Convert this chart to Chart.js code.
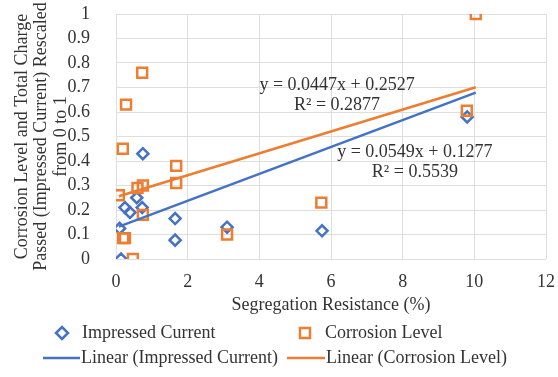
<!DOCTYPE html>
<html>
<head>
<meta charset="utf-8">
<script src="https://cdn.jsdelivr.net/npm/chart.js@4.4.1/dist/chart.umd.min.js"></script>
<style>
  html, body { margin: 0; padding: 0; background: #fff; }
  #wrap { width: 558px; height: 377px; }
</style>
</head>
<body>
<div id="wrap"><canvas id="myChart" width="558" height="377"></canvas></div>
<script>
// Impressed Current (diamonds)
const impressedX = [0.10, 0.14, 0.25, 0.39, 0.58, 0.73, 0.75, 1.65, 1.65, 3.10, 5.75, 9.80];
const impressedY = [0.125, 0.00, 0.21, 0.19, 0.25, 0.21, 0.43, 0.165, 0.077, 0.13, 0.115, 0.58];

// Corrosion Level (squares)
const corrosionX = [0.08, 0.19, 0.20, 0.25, 0.28, 0.47, 0.60, 0.73, 0.75, 0.75, 1.68, 1.68, 3.10, 5.73, 9.79, 10.04];
const corrosionY = [0.26, 0.45, 0.085, 0.085, 0.63, 0.00, 0.29, 0.76, 0.30, 0.18, 0.38, 0.31, 0.10, 0.23, 0.605, 1.00];

// trend line end points
const fitX = [0.08, 10.04];
const impressedFitY = [0.132, 0.679];
const corrosionFitY = [0.256, 0.701];

const xTickValues = [0, 2, 4, 6, 8, 10, 12];
const yTickValues = [0, 0.1, 0.2, 0.3, 0.4, 0.5, 0.6, 0.7, 0.8, 0.9, 1];
const yTickLabels = ['0', '0.1', '0.2', '0.3', '0.4', '0.5', '0.6', '0.7', '0.8', '0.9', '1'];

const equations = [
    { x: 6.17, y: 0.71, lines: ['y = 0.0447x + 0.2527', 'R² = 0.2877'] },
    { x: 8.34, y: 0.437, lines: ['y = 0.0549x + 0.1277', 'R² = 0.5539'] }
];

const BLUE = '#4472C4';
const ORANGE = '#ED7D31';
const TEXT = '#333333';
const FONT = '"Liberation Serif", "Times New Roman", serif';

const toPoints = (xs, ys) => xs.map((x, i) => ({ x: x, y: ys[i] }));

const equationPlugin = {
    id: 'equations',
    afterDatasetsDraw(chart) {
        const { ctx, scales } = chart;
        ctx.save();
        ctx.font = '18px ' + FONT;
        ctx.fillStyle = TEXT;
        ctx.textAlign = 'center';
        ctx.textBaseline = 'middle';
        equations.forEach(eq => {
            const px = scales.x.getPixelForValue(eq.x);
            const py = scales.y.getPixelForValue(eq.y);
            eq.lines.forEach((t, i) => ctx.fillText(t, px, py + i * 20));
        });
        ctx.restore();
    }
};

const legendPlugin = {
    id: 'sideLegend',
    afterDraw(chart) {
        const ctx = chart.ctx;
        ctx.save();
        ctx.font = '18px ' + FONT;
        ctx.fillStyle = TEXT;
        ctx.textAlign = 'left';
        ctx.textBaseline = 'middle';

        // row 1
        const y1 = 333;
        ctx.strokeStyle = BLUE;
        ctx.lineWidth = 2.5;
        ctx.beginPath();
        ctx.moveTo(56, y1); ctx.lineTo(62, y1 - 6); ctx.lineTo(68, y1); ctx.lineTo(62, y1 + 6);
        ctx.closePath();
        ctx.stroke();
        ctx.fillText('Impressed Current', 82, y1);

        ctx.strokeStyle = ORANGE;
        ctx.strokeRect(300, y1 - 5, 10, 10);
        ctx.fillText('Corrosion Level', 325, y1);

        // row 2
        const y2 = 358;
        ctx.lineWidth = 2.5;
        ctx.strokeStyle = BLUE;
        ctx.beginPath(); ctx.moveTo(43, y2); ctx.lineTo(80, y2); ctx.stroke();
        ctx.fillText('Linear (Impressed Current)', 81, y2);
        ctx.strokeStyle = ORANGE;
        ctx.beginPath(); ctx.moveTo(287, y2); ctx.lineTo(325, y2); ctx.stroke();
        ctx.fillText('Linear (Corrosion Level)', 326, y2);
        ctx.restore();
    }
};

const ctx = document.getElementById('myChart').getContext('2d');
const myChart = new Chart(ctx, {
    type: 'scatter',
    data: {
        datasets: [
            {
                label: 'Impressed Current',
                data: toPoints(impressedX, impressedY),
                pointStyle: 'rectRot',
                pointRadius: 5.5,
                pointHoverRadius: 5.5,
                borderColor: BLUE,
                backgroundColor: 'rgba(0,0,0,0)',
                borderWidth: 2.5,
                order: 4
            },
            {
                label: 'Corrosion Level',
                data: toPoints(corrosionX, corrosionY),
                pointStyle: 'rect',
                pointRadius: 7,
                pointHoverRadius: 7,
                borderColor: ORANGE,
                backgroundColor: 'rgba(0,0,0,0)',
                borderWidth: 2.5,
                order: 3
            },
            {
                type: 'line',
                label: 'Linear (Impressed Current)',
                data: toPoints(fitX, impressedFitY),
                borderColor: BLUE,
                borderWidth: 2.5,
                pointRadius: 0,
                fill: false,
                order: 2
            },
            {
                type: 'line',
                label: 'Linear (Corrosion Level)',
                data: toPoints(fitX, corrosionFitY),
                borderColor: ORANGE,
                borderWidth: 2.5,
                pointRadius: 0,
                fill: false,
                order: 1
            }
        ]
    },
    options: {
        responsive: false,
        animation: false,
        layout: {
            padding: { top: 14, right: 12, bottom: 55, left: 0 }
        },
        plugins: {
            legend: { display: false },
            tooltip: { enabled: false }
        },
        scales: {
            x: {
                type: 'linear',
                min: 0,
                max: 12,
                afterBuildTicks: axis => { axis.ticks = xTickValues.map(v => ({ value: v })); },
                afterFit: axis => {
                    axis.height = 63;
                    axis.paddingLeft = 0;
                    axis.paddingRight = 0;
                },
                grid: { color: '#dedede', drawTicks: false },
                border: { display: false },
                ticks: {
                    color: TEXT,
                    padding: 12,
                    autoSkip: false,
                    font: { family: FONT, size: 18 },
                    maxRotation: 0
                },
                title: {
                    display: true,
                    text: 'Segregation Resistance (%)',
                    color: TEXT,
                    font: { family: FONT, size: 18, lineHeight: 1.1 },
                    padding: { top: 0, bottom: 7 }
                }
            },
            y: {
                type: 'linear',
                min: 0,
                max: 1,
                afterBuildTicks: axis => { axis.ticks = yTickValues.map(v => ({ value: v })); },
                afterFit: axis => {
                    axis.width = 116;
                    axis.paddingTop = 0;
                    axis.paddingBottom = 0;
                },
                grid: { color: '#dedede', drawTicks: false },
                border: { display: false },
                ticks: {
                    color: TEXT,
                    padding: 26,
                    autoSkip: false,
                    font: { family: FONT, size: 18 },
                    callback: (value, index) => yTickLabels[index]
                },
                title: {
                    display: true,
                    text: ['Corrosion Level and Total Charge', 'Passed (Impressed Current) Rescaled', 'from 0 to 1'],
                    color: TEXT,
                    font: { family: FONT, size: 18, lineHeight: 1.1 },
                    padding: { top: 12, bottom: 0 }
                }
            }
        }
    },
    plugins: [equationPlugin, legendPlugin]
});
</script>
</body>
</html>
